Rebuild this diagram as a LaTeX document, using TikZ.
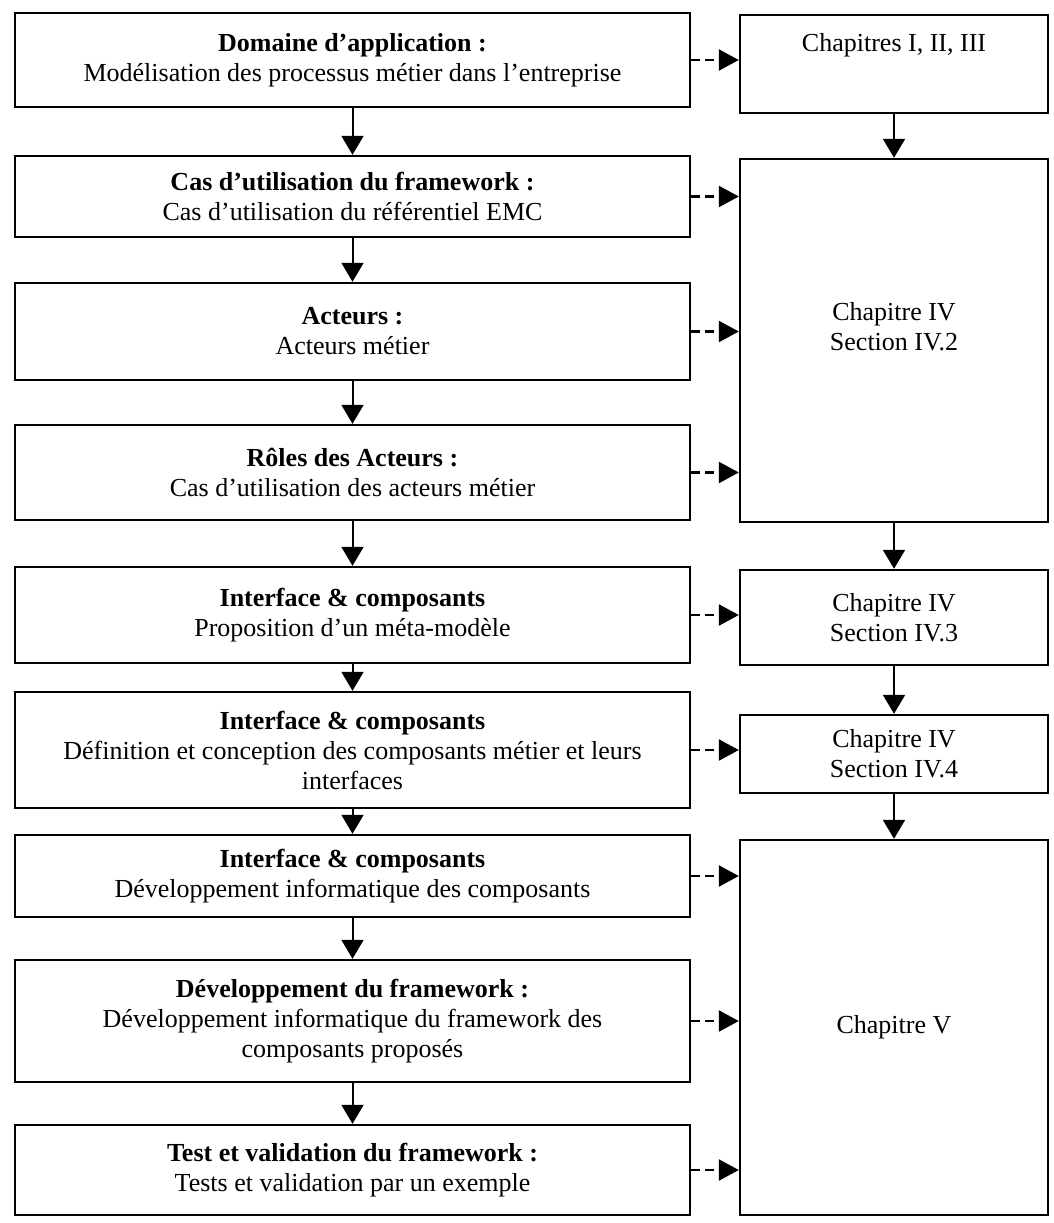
\documentclass[tikz,border=0pt]{standalone}
\usepackage{fontspec}
\setmainfont{Liberation Serif}
\usetikzlibrary{arrows.meta}
\begin{document}
\begin{tikzpicture}[x=1pt,y=-1pt,
  box/.style={draw=black, line width=2.4pt, fill=white, align=center,
    font=\fontsize{26}{30}\selectfont, inner sep=0pt},
  lbox/.style={box, minimum width=675pt},
  rbox/.style={box, minimum width=308pt},
  txt/.style={align=center, font=\fontsize{26}{30}\selectfont, inner sep=0pt},
  flow/.style={line width=2pt, -{Triangle[length=19pt,width=22pt]}},
  ref/.style={line width=2.4pt, dash pattern=on 9pt off 5pt, -{Triangle[length=20pt,width=21pt]}}]
\useasboundingbox (0,0) rectangle (1053,1223);
\fill[white] (0,0) rectangle (1053,1223);
% left column
\node[lbox, minimum height=94pt]  (b1) at (352.5,60)   {\textbf{Domaine d’application :}\\Modélisation des processus métier dans l’entreprise};
\node[lbox, minimum height=81pt]  (b2) at (352.5,196.5) {\textbf{Cas d’utilisation du framework :}\\Cas d’utilisation du référentiel EMC};
\node[lbox, minimum height=97pt]  (b3) at (352.5,331.5) {\textbf{Acteurs :}\\Acteurs métier};
\node[lbox, minimum height=95pt]  (b4) at (352.5,472.5) {\textbf{Rôles des Acteurs :}\\Cas d’utilisation des acteurs métier};
\node[lbox, minimum height=96pt]  (b5) at (352.5,615)   {\textbf{Interface \& composants}\\Proposition d’un méta-modèle};
\node[lbox, minimum height=116pt] (b6) at (352.5,750)   {\textbf{Interface \& composants}\\Définition et conception des composants métier et leurs\\interfaces};
\node[lbox, minimum height=82pt]  (b7) at (352.5,876)   {\textbf{Interface \& composants}\\Développement informatique des composants};
\node[lbox, minimum height=122pt] (b8) at (352.5,1021)  {\textbf{Développement du framework :}\\Développement informatique du framework des\\composants proposés};
\node[lbox, minimum height=90pt]  (b9) at (352.5,1170)  {\textbf{Test et validation du framework :}\\Tests et validation par un exemple};
% right column
\node[rbox, minimum height=98pt]  (rA) at (894,64) {};
\node[txt] (tA) at (894,45) {Chapitres I, II, III};
\node[rbox, minimum height=363pt] (rB) at (894,340.5) {};
\node[txt] (tB) at (894,327) {Chapitre IV\\Section IV.2};
\node[rbox, minimum height=95pt]  (rC) at (894,617.5) {Chapitre IV\\Section IV.3};
\node[rbox, minimum height=78pt]  (rD) at (894,754) {Chapitre IV\\Section IV.4};
\node[rbox, minimum height=375pt] (rE) at (894,1027.5) {Chapitre V};
% flow arrows, left
\foreach \a/\b in {b1/b2,b2/b3,b3/b4,b4/b5,b5/b6,b6/b7,b7/b8,b8/b9}
  \draw[flow] (\a.south) -- (\b.north);
% flow arrows, right
\foreach \a/\b in {rA/rB,rB/rC,rC/rD,rD/rE}
  \draw[flow] (\a.south) -- (\b.north);
% dashed references
\draw[ref] (b1.east) -- (b1.east -| rA.west);
\draw[ref] (b2.east) -- (b2.east -| rB.west);
\draw[ref] (b3.east) -- (b3.east -| rB.west);
\draw[ref] (b4.east) -- (b4.east -| rB.west);
\draw[ref] (b5.east) -- (b5.east -| rC.west);
\draw[ref] (b6.east) -- (b6.east -| rD.west);
\draw[ref] (b7.east) -- (b7.east -| rE.west);
\draw[ref] (b8.east) -- (b8.east -| rE.west);
\draw[ref] (b9.east) -- (b9.east -| rE.west);
\end{tikzpicture}
\end{document}
